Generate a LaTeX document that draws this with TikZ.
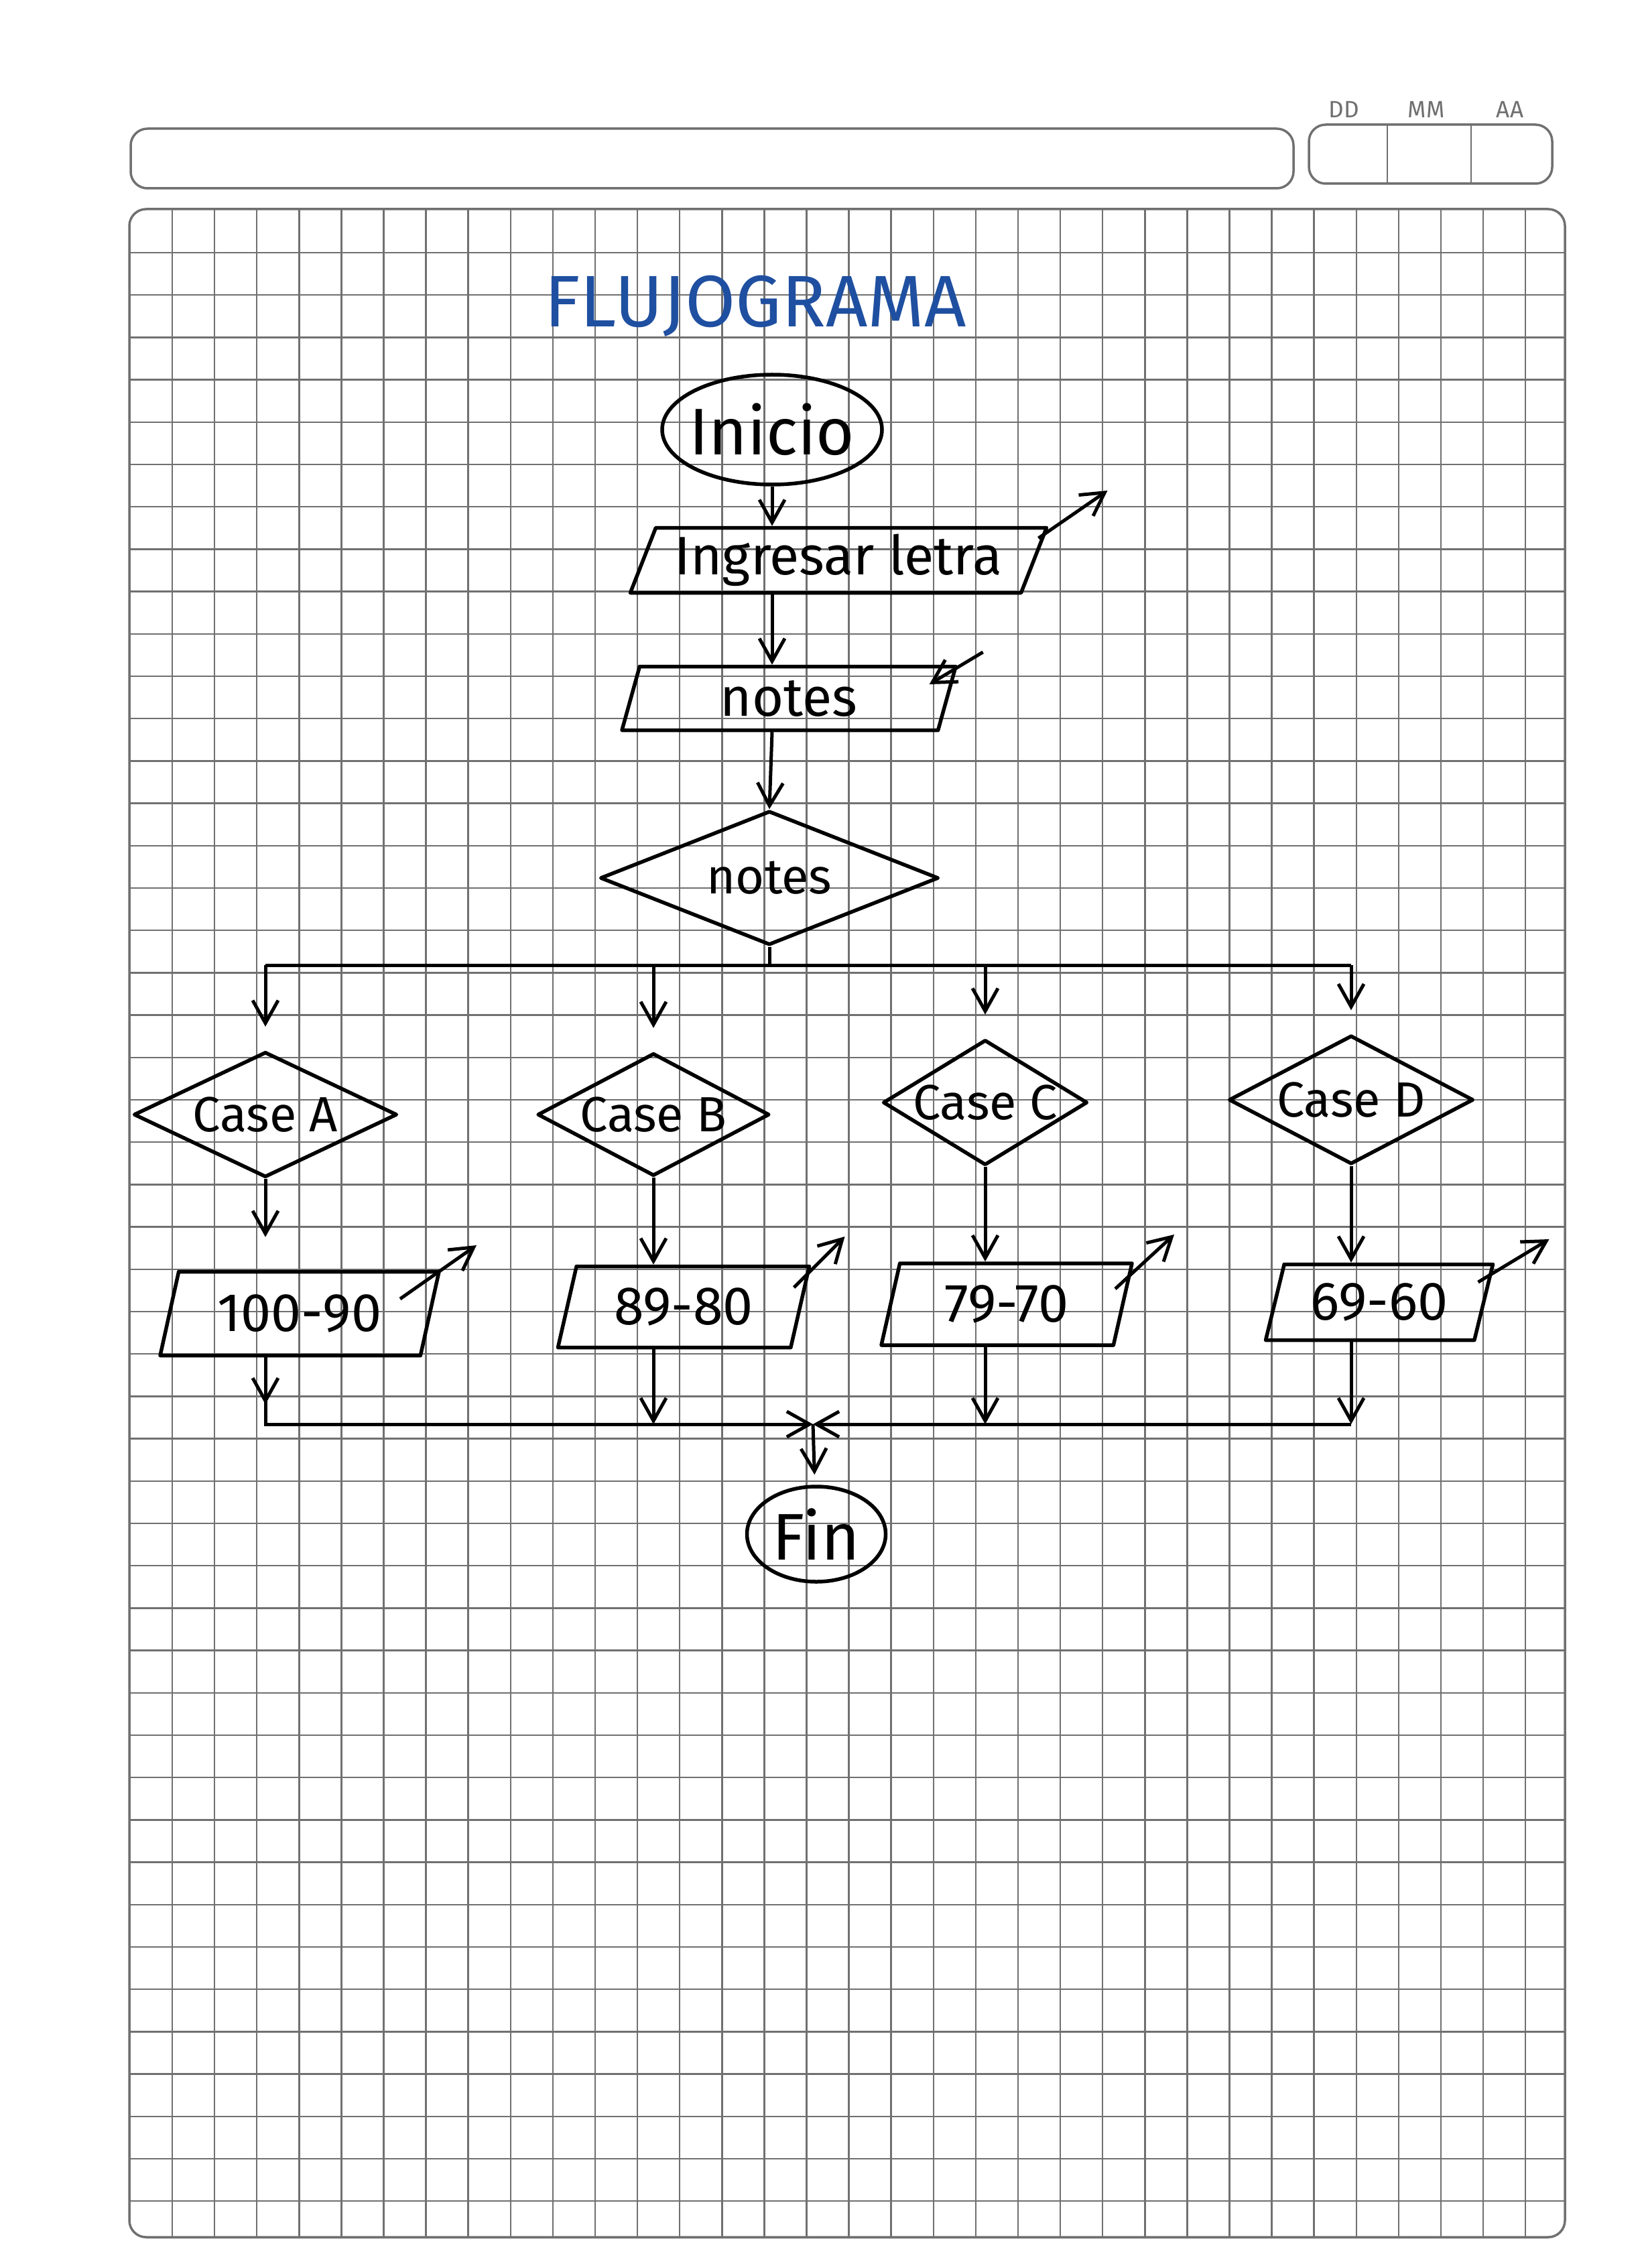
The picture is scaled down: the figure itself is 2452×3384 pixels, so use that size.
\documentclass[tikz,border=0pt]{standalone}
\usepackage{fontspec}
\setmainfont{Fira Sans}
\usetikzlibrary{arrows.meta,shapes.geometric,decorations.markings}
\definecolor{inkBlue}{HTML}{1F4FA0}
\definecolor{gridGray}{HTML}{707070}
\tikzset{
  gridline/.style={draw=gridGray, line width=0.25mm},
  sheet/.style={draw=gridGray, line width=0.35mm, rounded corners=2.5mm},
  datelbl/.style={text=gridGray, font=\fontsize{10}{12}\selectfont, inner sep=0pt},
  heading/.style={text=inkBlue, font=\fontsize{31}{33}\selectfont},
  pen/.style={draw=black, line width=0.55mm, line join=round},
  terminal/.style={ellipse, pen, inner sep=-2mm, font=\fontsize{28}{30}\selectfont},
  io/.style={
    trapezium, trapezium left angle=64, trapezium right angle=116,
    trapezium stretches body=true, pen, inner sep=0pt,
    font=\fontsize{23}{25}\selectfont
  },
  decision/.style={diamond, shape aspect=2, pen, inner sep=-2mm,
    font=\fontsize{21}{23}\selectfont},
  flow/.style={-{Straight Barb[length=3.4mm,width=3.8mm]}, line width=0.5mm},
  link/.style={line width=0.5mm, line join=round},
  midflow/.style={postaction={decorate}, decoration={markings,
    mark=at position #1 with {\arrow{Straight Barb[length=3.4mm,width=3.8mm]}}}}
}
\begin{document}
\begin{tikzpicture}[x=0.1mm, y=-0.1mm]
  \useasboundingbox (0,0) rectangle (2452,3384);
  \fill[white] (0,0) rectangle (2452,3384);

  % --- the sheet: header bar, date box and grid
  \draw[sheet] (195,192) rectangle (1930,281);
  \draw[sheet] (1953,186) rectangle (2316,274);
  \draw[gridline] (2070,186) -- (2070,274);
  \draw[gridline] (2195,186) -- (2195,274);
  \node[datelbl] (dd) at (2005,163) {DD};
  \node[datelbl] (mm) at (2128,163) {MM};
  \node[datelbl] (aa) at (2253,163) {AA};
  \foreach \gx in {0,...,32}
    \draw[gridline] ({257+63.1*\gx},312) -- ({257+63.1*\gx},3338);
  \foreach \gy in {0,...,46}
    \draw[gridline] (193,{377+63.2*\gy}) -- (2335,{377+63.2*\gy});
  \draw[sheet] (193,312) rectangle (2335,3338);

  \node[heading] (title) at (1127,457) {FLUJOGRAMA};

  % --- main column
  \node[terminal, minimum width=32.8mm, minimum height=16.4mm] (inicio) at (1152,641) {Inicio};
  \node[io, minimum width=62.1mm, minimum height=9.7mm] (ingresar) at (1251,836) {Ingresar letra};
  \node[io, minimum width=49.8mm, minimum height=9.5mm] (notesIn) at (1177,1042) {notes};
  \node[decision, minimum width=50.5mm, minimum height=20mm] (notesDec) at (1148,1310) {notes};

  % --- the four cases
  \node[decision, minimum width=39.3mm, minimum height=18.7mm] (caseA) at (396,1663) {Case A};
  \node[decision, minimum width=34.6mm, minimum height=18.3mm] (caseB) at (975,1663) {Case B};
  \node[decision, minimum width=30.5mm, minimum height=18.7mm] (caseC) at (1470,1645) {Case C};
  \node[decision, minimum width=36.5mm, minimum height=19.2mm] (caseD) at (2016,1641) {Case D};

  \node[io, minimum width=41.6mm, minimum height=12.5mm] (outA) at (447,1960) {100-90};
  \node[io, minimum width=37.5mm, minimum height=12.1mm] (outB) at (1020,1950) {89-80};
  \node[io, minimum width=37.4mm, minimum height=12.2mm] (outC) at (1502,1946) {79-70};
  \node[io, minimum width=33.9mm, minimum height=11.3mm] (outD) at (2058,1943) {69-60};

  \node[terminal, minimum width=20.7mm, minimum height=14.2mm] (fin) at (1218,2289) {Fin};

  \coordinate (split) at (1148,1440);
  \coordinate (merge) at (1213,2125);

  % --- arrows
  \draw[flow] (inicio) -- (inicio |- ingresar.north);
  \draw[flow] (ingresar.south -| inicio) -- (notesIn.north -| inicio);
  \draw[flow] (notesIn.south -| inicio) -- (notesDec.north);
  \draw[flow] ([shift={(4,-33)}]ingresar.east) -- ++(103,-71);
  \draw[flow] ([shift={(51,-69)}]notesIn.east) -- ++(-80,48);

  \draw[link] (notesDec.south) -- (split);
  \draw[link] (split -| caseA) -- (split -| caseD);
  \draw[flow, shorten >=3.5mm] (split -| caseA) -- (caseA.north);
  \draw[flow, shorten >=3.5mm] (split -| caseB) -- (caseB.north);
  \draw[flow, shorten >=3.5mm] (split -| caseC) -- (caseC.north);
  \draw[flow, shorten >=3.5mm] (split -| caseD) -- (caseD.north);

  \draw[flow, shorten >=4.9mm] (caseA.south) -- (caseA.south |- outA.north);
  \draw[flow] (caseB.south) -- (caseB.south |- outB.north);
  \draw[flow] (caseC.south) -- (caseC.south |- outC.north);
  \draw[flow] (caseD.south) -- (caseD.south |- outD.north);

  \draw[flow] ([shift={(-47,-22)}]outA.east) -- ++(114,-80);
  \draw[flow] ([shift={(-12,-29)}]outB.east) -- ++(76,-76);
  \draw[flow] ([shift={(-14,-23)}]outC.east) -- ++(88,-81);
  \draw[flow] ([shift={(-11,-30)}]outD.east) -- ++(106,-64);

  \draw[flow, midflow=7mm] (caseA |- outA.south) -- (caseA |- merge) -- (merge);
  \draw[flow] (caseB |- outB.south) -- (caseB |- merge);
  \draw[flow] (caseC |- outC.south) -- (caseC |- merge);
  \draw[flow] (caseD |- outD.south) -- (caseD |- merge);
  \draw[flow] (caseD |- merge) -- (merge);
  \draw[flow, shorten >=1.5mm] (merge) -- (fin);
\end{tikzpicture}
\end{document}
